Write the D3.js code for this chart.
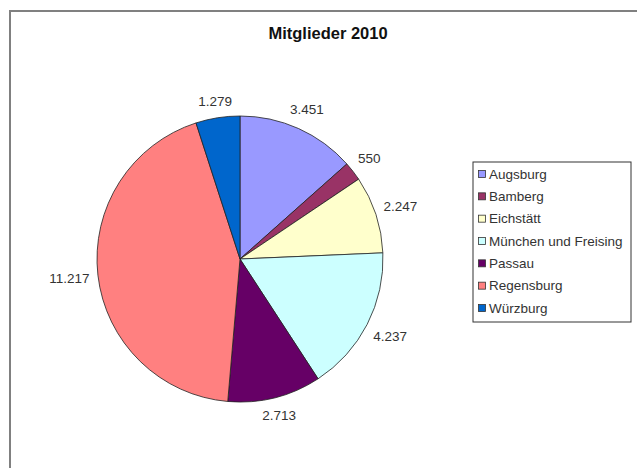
<!DOCTYPE html>
<html><head><meta charset="utf-8">
<script src="https://cdn.jsdelivr.net/npm/d3@7"></script>
<style>body{margin:0;background:#fff}svg{display:block}</style>
</head><body>
<script>
const categories = ["Augsburg","Bamberg","Eichstätt","München und Freising","Passau","Regensburg","Würzburg"];
const values = [3451,550,2247,4237,2713,11217,1279];
const labels = ["3.451","550","2.247","4.237","2.713","11.217","1.279"];
const colors = ["#9999FF","#993366","#FFFFCC","#CCFFFF","#660066","#FF8080","#0066CC"];
const title = "Mitglieder 2010";

const W=637,H=468;
const svg=d3.select("body").append("svg").attr("width",W).attr("height",H);
svg.append("rect").attr("x",10).attr("y",11).attr("width",700).attr("height",600)
  .attr("fill","#fff").attr("stroke","#808080").attr("stroke-width",2);
svg.append("text").attr("x",328).attr("y",39).attr("text-anchor","middle")
  .attr("font-family","Liberation Sans, Arial, sans-serif").attr("font-weight","bold")
  .attr("font-size",16.5).attr("fill","#111").text(title);

const cx=240,cy=259,r=143;
const data=categories.map((c,i)=>({c,v:values[i],l:labels[i],col:colors[i]}));
const pie=d3.pie().value(d=>d.v).sort(null);
const arcs=pie(data);
const arc=d3.arc().innerRadius(0).outerRadius(r);
const g=svg.append("g").attr("transform",`translate(${cx},${cy})`);
g.selectAll("path").data(arcs).join("path").attr("d",arc)
  .attr("fill",d=>d.data.col).attr("stroke","#222").attr("stroke-width",0.8);

const font="Liberation Sans, Arial, sans-serif";
g.selectAll("text.lbl").data(arcs).join("text").attr("class","lbl")
  .attr("font-family",font).attr("font-size",13.5).attr("fill","#333")
  .attr("text-anchor","middle").attr("dominant-baseline","central")
  .text(d=>d.data.l)
  .each(function(d){
    const a=(d.startAngle+d.endAngle)/2;
    const w=this.getComputedTextLength(), h=12;
    const s=Math.sin(a), c=Math.cos(a);
    const dist=r+8+Math.abs(s)*w/2+Math.abs(c)*h/2;
    d3.select(this).attr("x",s*dist).attr("y",-c*dist);
  });

// legend
const lx=473,ly=162,lw=158,lh=160;
const leg=svg.append("g");
leg.append("rect").attr("x",lx).attr("y",ly).attr("width",lw).attr("height",lh)
  .attr("fill","#fff").attr("stroke","#333").attr("stroke-width",1);
const y=d3.scalePoint().domain(categories).range([ly+12,ly+146]);
const items=leg.selectAll("g.it").data(data).join("g").attr("class","it")
  .attr("transform",d=>`translate(${lx+5},${y(d.c)})`);
items.append("rect").attr("x",0.5).attr("y",-3.5).attr("width",7).attr("height",7)
  .attr("fill",d=>d.col).attr("stroke","#333").attr("stroke-width",0.8);
items.append("text").attr("x",11).attr("y",0).attr("dominant-baseline","central")
  .attr("font-family",font).attr("font-size",13.5).attr("fill","#333").text(d=>d.c);
</script>
</body></html>
